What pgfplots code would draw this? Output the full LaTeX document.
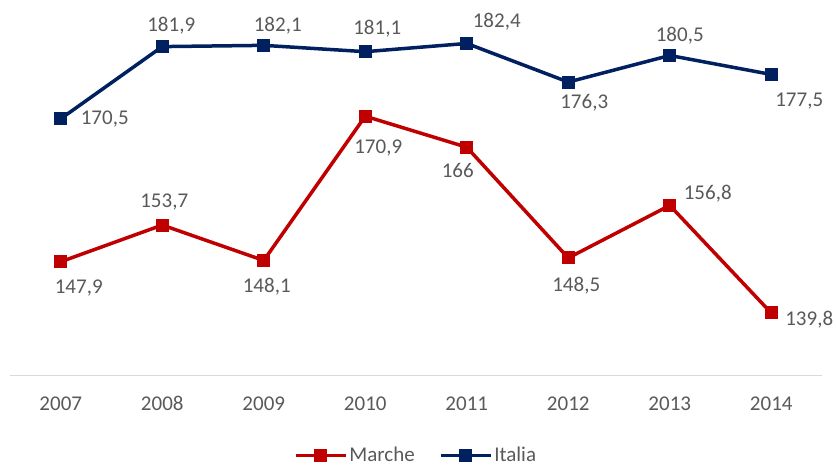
\documentclass[border=0pt]{standalone}
\usepackage{fontspec}
\setmainfont{Carlito}
\usepackage{pgfplots}
\pgfplotsset{compat=1.18}
\definecolor{marche}{HTML}{C00000}
\definecolor{italia}{HTML}{002060}
\definecolor{txt}{HTML}{595959}
\begin{document}
\fontsize{21bp}{25bp}\selectfont
\begin{tikzpicture}
\useasboundingbox (0,0) rectangle (836bp,466bp);
\begin{axis}[
    at={(10bp,91bp)}, anchor=south west,
    scale only axis, width=812bp, height=348bp,
    xmin=-0.5, xmax=7.5, ymin=130, ymax=185,
    axis y line=none, axis x line=bottom,
    x axis line style={draw=black!15, line width=1bp, -},
    xtick={0,...,7},
    xticklabels={2007,2008,2009,2010,2011,2012,2013,2014},
    major tick length=0,
    xticklabel style={text=txt, text height=13.3bp, text depth=0bp, yshift=-15bp},
    clip=false,
    nodes near coords,
    point meta=explicit symbolic,
    visualization depends on={\thisrow{dx}\as\ldx},
    visualization depends on={\thisrow{dy}\as\ldy},
    every node near coord/.append style={anchor=center, text=txt,
        inner sep=0pt, xshift=\ldx bp, yshift=\ldy bp},
    legend style={at={(0.5,-0.232)}, anchor=center, draw=none, fill=none,
        legend columns=2, text=txt,
        /tikz/every even column/.append style={column sep=22bp}},
    legend image code/.code={
        \draw[#1, mark repeat=2, mark phase=2]
        plot coordinates {(0bp,0bp) (25bp,0bp) (50bp,0bp)};},
]
% Marche
\addplot[marche, line width=3.5bp, mark=square*, mark size=6bp,
    mark options={line width=1bp}]
    table[x=x, y=y, meta=lab] {
x y lab dx dy
0 147.9 147,9 18 -26
1 153.7 153,7 2 23
2 148.1 148,1 3 -26
3 170.9 170,9 13 -32
4 166 166 -9 -23
5 148.5 148,5 8 -28
6 156.8 156,8 38 12
7 139.8 139,8 38 -7
};
\addlegendentry{Marche}
% Italia
\addplot[italia, line width=3.5bp, mark=square*, mark size=6bp,
    mark options={line width=1bp}]
    table[x=x, y=y, meta=lab] {
x y lab dx dy
0 170.5 170,5 44 0
1 181.9 181,9 9 21
2 182.1 182,1 14 20
3 181.1 181,1 12 23
4 182.4 182,4 30 22
5 176.3 176,3 16 -21
6 180.5 180,5 10 20
7 177.5 177,5 28 -27
};
\addlegendentry{Italia}
\end{axis}
\end{tikzpicture}
\end{document}
